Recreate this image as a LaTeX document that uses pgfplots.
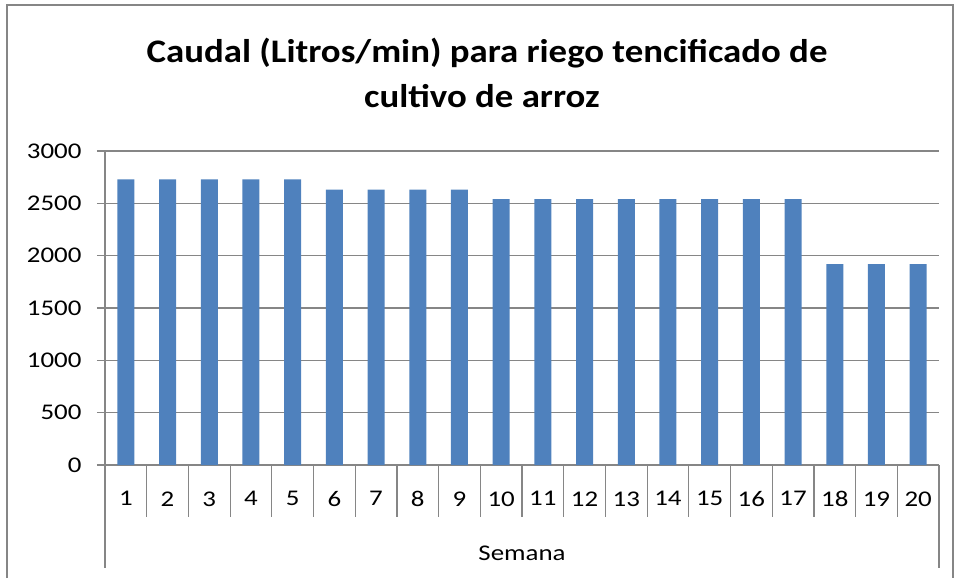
\documentclass[border=0pt]{standalone}
\usepackage{pgfplots}
\pgfplotsset{compat=1.18}
\usepackage{fontspec}
\setmainfont{Carlito}[FakeStretch=1.2]
\newfontfamily\titlefont{Carlito}[FakeStretch=1.12]
\definecolor{barblue}{HTML}{4F81BD}
\definecolor{linegray}{HTML}{868686}

\begin{document}
\begin{tikzpicture}
% page and chart frame
\path (0bp,0bp) rectangle (956bp,578bp);
\draw[linegray, line width=1.2bp] (7bp,0bp) -- (7bp,573bp) -- (953bp,573bp) -- (953bp,0bp);

\node[anchor=base, font=\titlefont\bfseries\fontsize{33}{45}\selectfont] at (487bp,515bp)
  {Caudal (Litros/min) para riego tencificado de};
\node[anchor=base, font=\titlefont\bfseries\fontsize{33}{45}\selectfont] at (482bp,470bp)
  {cultivo de arroz};

\begin{axis}[
    at={(105bp,113bp)}, anchor=south west,
    width=834bp, height=314bp, scale only axis,
    xmin=0.5, xmax=20.5,
    ymin=0, ymax=3000,
    axis x line*=bottom, axis y line*=left,
    axis line style={linegray, line width=1.2bp, -},
    ytick={0,500,...,3000},
    xtick={1,...,20},
    major x tick style={draw=none},
    major tick length=8bp,
    tick align=outside,
    y tick style={linegray, line width=1.2bp},
    ymajorgrids,
    grid style={linegray, line width=1.2bp},
    tick label style={font=\fontsize{22.5}{25}\selectfont},
    /pgf/number format/assume math mode=true,
    /pgf/number format/1000 sep={},
    xticklabel style={yshift=-15bp},
    yticklabel style={xshift=-12bp},
    clip=false,
]
\addplot[ybar, fill=barblue, draw=none, bar width=17bp] coordinates {
    (1,2730) (2,2730) (3,2730) (4,2730) (5,2730)
    (6,2630) (7,2630) (8,2630) (9,2630)
    (10,2540) (11,2540) (12,2540) (13,2540) (14,2540)
    (15,2540) (16,2540) (17,2540)
    (18,1920) (19,1920) (20,1920)
};
% category separators
\pgfplotsinvokeforeach{1.5,2.5,...,19.5}{
  \draw[linegray, line width=1.2bp] (axis cs:#1,0) -- ++(0bp,-52bp);
}
\draw[linegray, line width=1.2bp] (axis cs:0.5,0) -- ++(0bp,-103bp);
\draw[linegray, line width=1.2bp] (axis cs:20.5,0) -- ++(0bp,-103bp);
\node[font=\fontsize{22.5}{25}\selectfont] at (axis cs:10.5,0) [yshift=-88bp] {Semana};
\end{axis}
\end{tikzpicture}
\end{document}
